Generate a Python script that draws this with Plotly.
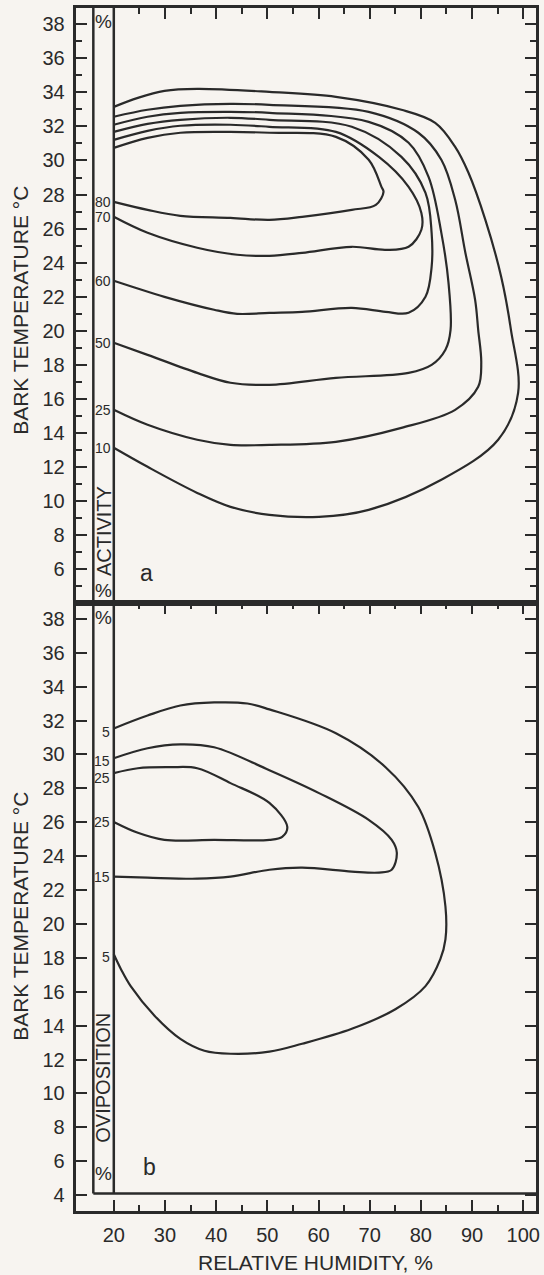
import plotly.graph_objects as go

# ---------------------------------------------------------------
# Isolines of activity (a) and oviposition (b), in per cent,
# against relative humidity (%) and bark temperature (°C).
# Each line runs from the left edge along its lower branch,
# round the humid end and back along its upper branch.
# ---------------------------------------------------------------

act_labels = ["80", "70", "60", "50", "25", "10"]

act80_rh = [20, 26.6, 33.0, 42.8, 50.4, 56.8, 66.5, 71.2, 72.7, 72.3, 69.8, 63.4, 50.4, 42.8, 33.0, 26.6, 20]
act80_t = [27.57, 27.10, 26.75, 26.63, 26.51, 26.69, 27.10, 27.39, 28.16, 28.45, 30.04, 31.39, 31.63, 31.68, 31.63, 31.33, 30.74]

act70_rh = [20, 26.6, 36.3, 44.1, 50.4, 56.8, 66.5, 73.1, 77.6, 80.1, 80.1, 77.6, 71.8, 63.4, 50.4, 42.8, 33.0, 26.6, 20]
act70_t = [26.69, 25.75, 24.87, 24.46, 24.40, 24.57, 24.93, 24.75, 24.93, 25.93, 26.92, 28.45, 30.21, 31.68, 31.98, 32.10, 32.04, 31.74, 31.21]

act60_rh = [20, 29.9, 39.6, 44.1, 50.4, 56.8, 66.5, 73.1, 77.6, 80.9, 82.1, 82.1, 80.9, 76.2, 66.5, 50.4, 42.8, 33.0, 26.6, 20]
act60_t = [22.93, 21.99, 21.23, 20.99, 21.05, 21.11, 21.34, 21.11, 21.05, 21.99, 23.75, 25.75, 28.10, 30.21, 31.98, 32.39, 32.51, 32.39, 32.15, 31.68]

act50_rh = [20, 26.6, 36.3, 42.8, 50.4, 63.4, 77.6, 82.1, 84.8, 85.8, 85.4, 84.0, 81.5, 77.6, 69.8, 50.4, 42.8, 33.0, 26.6, 20]
act50_t = [19.29, 18.58, 17.52, 16.94, 16.82, 17.23, 17.52, 17.99, 18.88, 20.05, 22.81, 25.75, 29.04, 31.04, 32.27, 32.80, 32.86, 32.80, 32.57, 32.10]

act25_rh = [20, 26.6, 36.3, 42.8, 50.4, 63.4, 76.2, 86.7, 91.2, 91.8, 91.2, 90.6, 88.7, 86.7, 84.0, 79.5, 69.8, 50.4, 42.8, 33.0, 26.6, 20]
act25_t = [15.35, 14.47, 13.59, 13.29, 13.29, 13.47, 14.29, 15.35, 16.70, 18.11, 20.05, 21.81, 24.57, 27.69, 30.04, 31.63, 32.86, 33.27, 33.33, 33.21, 32.98, 32.57]

act10_rh = [20, 26.6, 36.3, 42.8, 50.4, 60.1, 69.8, 84.0, 95.1, 99.0, 97.6, 95.7, 92.6, 89.3, 86.7, 82.8, 76.2, 63.4, 50.4, 36.3, 29.9, 24.7, 20]
act10_t = [13.12, 12.00, 10.47, 9.65, 9.18, 9.06, 9.47, 11.24, 13.59, 16.35, 20.05, 23.16, 26.51, 29.28, 30.80, 32.21, 32.98, 33.74, 34.03, 34.21, 34.09, 33.68, 33.15]

ovi_labels = ["25", "15", "5"]

ovi25_rh = [20, 24.7, 29.9, 39.6, 50.4, 52.9, 53.9, 50.4, 42.8, 36.3, 31.1, 24.7, 20]
ovi25_t = [26.02, 25.38, 24.96, 24.96, 24.96, 25.14, 25.73, 27.14, 28.31, 29.19, 29.25, 29.19, 28.90]

ovi15_rh = [20, 26.6, 36.3, 42.8, 50.4, 56.8, 66.5, 71.8, 74.3, 75.3, 74.3, 69.8, 60.1, 50.4, 39.6, 33.0, 26.6, 20]
ovi15_t = [22.79, 22.73, 22.67, 22.79, 23.20, 23.32, 23.09, 23.03, 23.20, 24.20, 24.96, 26.14, 27.72, 29.07, 30.43, 30.60, 30.37, 29.78]

ovi5_rh = [20, 21.4, 23.3, 28.0, 33.0, 37.7, 42.8, 50.4, 56.8, 66.5, 75.1, 80.9, 83.8, 84.8, 84.8, 82.8, 79.5, 73.1, 63.4, 50.4, 46.1, 39.6, 33.0, 26.6, 20]
ovi5_t = [18.21, 17.33, 16.33, 14.57, 13.22, 12.52, 12.34, 12.46, 12.93, 13.81, 14.98, 16.33, 17.92, 19.09, 21.03, 24.20, 26.90, 29.25, 31.25, 32.66, 33.01, 33.07, 32.89, 32.30, 31.54]

rh_major = [20, 30, 40, 50, 60, 70, 80, 90, 100]
rh_minor = [25, 35, 45, 55, 65, 75, 85, 95]
t_major_a = [6, 8, 10, 12, 14, 16, 18, 20, 22, 24, 26, 28, 30, 32, 34, 36, 38]
t_minor_a = [5, 7, 9, 11, 13, 15, 17, 19, 21, 23, 25, 27, 29, 31, 33, 35, 37]
t_major_b = [4, 6, 8, 10, 12, 14, 16, 18, 20, 22, 24, 26, 28, 30, 32, 34, 36, 38]

# ---------------------------------------------------------------
W, H = 544, 1275
INK = "#2a2a2a"
BG = "#f7f4f0"
FONT = "Liberation Sans"

RH_RANGE = [12.7, 102.5]
T_RANGE_A = [4.0, 38.96]
T_RANGE_B = [3.06, 38.94]
STRIP_L, PLOT_L = 16, 20   # left label strip and left edge of the plotting field (RH %)
FLOOR_B = 4.1              # floor of the strip/plot box in panel b (°C)


def py(p):
    return 1 - p / H


fig = go.Figure()

act_curves = [(act80_rh, act80_t), (act70_rh, act70_t), (act60_rh, act60_t),
              (act50_rh, act50_t), (act25_rh, act25_t), (act10_rh, act10_t)]
ovi_curves = [(ovi25_rh, ovi25_t), (ovi15_rh, ovi15_t), (ovi5_rh, ovi5_t)]

line_style = dict(color=INK, width=2.2, shape="spline", smoothing=1.0)
for rh, t in act_curves:
    fig.add_trace(go.Scatter(x=rh, y=t, xaxis="x", yaxis="y", mode="lines",
                             line=line_style, hoverinfo="skip", showlegend=False))
for rh, t in ovi_curves:
    fig.add_trace(go.Scatter(x=rh, y=t, xaxis="x2", yaxis="y2", mode="lines",
                             line=line_style, hoverinfo="skip", showlegend=False))

annotations = []
lab_font = dict(family=FONT, size=14, color=INK)

# level labels at the start of each lower branch (panel a)
for lab, (rh, t) in zip(act_labels, act_curves):
    annotations.append(dict(x=PLOT_L, y=t[0], xref="x", yref="y", text=lab,
                            xanchor="right", yanchor="middle", xshift=-1,
                            showarrow=False, font=lab_font))

# panel b: both branch ends are labelled
for lab, (rh, t), sh_lo, sh_hi in zip(ovi_labels, ovi_curves, [0, 0, -3], [-5, -3, -4]):
    annotations.append(dict(x=PLOT_L, y=t[0], xref="x2", yref="y2", text=lab,
                            xanchor="right", yanchor="middle", xshift=-2, yshift=sh_lo,
                            showarrow=False, font=lab_font))
    annotations.append(dict(x=PLOT_L, y=t[-1], xref="x2", yref="y2", text=lab,
                            xanchor="right", yanchor="middle", xshift=-2, yshift=sh_hi,
                            showarrow=False, font=lab_font))

strip_font = dict(family=FONT, size=19, color=INK)
mid = (STRIP_L + PLOT_L) / 2
for xr, yr, y_top, y_word, y_bot, word in [("x", "y", 38.15, 8.2, 4.72, "ACTIVITY"),
                                           ("x2", "y2", 38.1, 10.9, 5.3, "OVIPOSITION")]:
    annotations.append(dict(x=mid, y=y_top, xref=xr, yref=yr, text="%",
                            xanchor="center", yanchor="middle",
                            showarrow=False, font=strip_font))
    annotations.append(dict(x=mid, y=y_bot, xref=xr, yref=yr, text="%",
                            xanchor="center", yanchor="middle",
                            showarrow=False, font=strip_font))
    annotations.append(dict(x=mid, y=y_word, xref=xr, yref=yr, text=word, textangle=-90,
                            xanchor="center", yanchor="middle",
                            showarrow=False, font=dict(family=FONT, size=20, color=INK)))

letter_font = dict(family=FONT, size=23, color=INK)
annotations.append(dict(x=26.3, y=5.77, xref="x", yref="y", text="a", showarrow=False,
                        xanchor="center", yanchor="middle", font=letter_font))
annotations.append(dict(x=26.9, y=5.65, xref="x2", yref="y2", text="b", showarrow=False,
                        xanchor="center", yanchor="middle", font=letter_font))

title_font = dict(family=FONT, size=21, color=INK)
for yc in (310, 916):
    annotations.append(dict(x=20 / W, y=py(yc), xref="paper", yref="paper",
                            text="BARK TEMPERATURE °C", textangle=-90,
                            xanchor="center", yanchor="middle",
                            showarrow=False, font=title_font))
annotations.append(dict(x=318 / W, y=py(1262), xref="paper", yref="paper",
                        text="RELATIVE HUMIDITY, %", xanchor="center", yanchor="middle",
                        showarrow=False, font=title_font))

frame = dict(color=INK, width=2.5)
shapes = [
    # panel a: strip and plotting-field boundaries
    dict(type="line", xref="x", yref="y domain", x0=STRIP_L, x1=STRIP_L, y0=0, y1=1, line=frame),
    dict(type="line", xref="x", yref="y domain", x0=PLOT_L, x1=PLOT_L, y0=0, y1=1, line=frame),
    # panel b: strip, plotting field and their common floor
    dict(type="line", xref="x2", yref="y2", x0=STRIP_L, x1=STRIP_L, y0=FLOOR_B, y1=T_RANGE_B[1], line=frame),
    dict(type="line", xref="x2", yref="y2", x0=PLOT_L, x1=PLOT_L, y0=FLOOR_B, y1=T_RANGE_B[1], line=frame),
    dict(type="line", xref="x2", yref="y2", x0=STRIP_L, x1=RH_RANGE[1], y0=FLOOR_B, y1=FLOOR_B, line=frame),
]

tick_font = dict(family=FONT, size=20, color=INK)
x_domain = [77 / W, 540 / W]
common = dict(showgrid=False, zeroline=False, showline=True, linecolor=INK, linewidth=2.5,
              ticks="inside", tickcolor=INK, tickwidth=2.2, tickfont=tick_font)

fig.update_layout(
    width=W, height=H,
    margin=dict(l=0, r=0, t=0, b=0),
    paper_bgcolor=BG, plot_bgcolor=BG,
    showlegend=False,
    font=dict(family=FONT, color=INK),
    xaxis=dict(common, domain=x_domain, range=RH_RANGE, anchor="y", side="top", mirror=True,
               tickmode="array", tickvals=rh_major, ticklen=11, showticklabels=False,
               minor=dict(tickmode="array", tickvals=rh_minor, ticklen=6, tickwidth=2.2,
                          tickcolor=INK, ticks="inside")),
    yaxis=dict(common, domain=[py(603), py(8)], range=T_RANGE_A, anchor="x", mirror="ticks",
               tickmode="array", tickvals=t_major_a, ticklen=11, ticklabelstandoff=5,
               minor=dict(tickmode="array", tickvals=t_minor_a, ticklen=6, tickwidth=2.2,
                          tickcolor=INK, ticks="inside")),
    xaxis2=dict(common, domain=x_domain, range=RH_RANGE, anchor="y2", side="bottom", mirror="ticks",
                tickmode="array", tickvals=rh_major, ticklen=11, ticklabelstandoff=4,
                minor=dict(tickmode="array", tickvals=rh_minor, ticklen=6, tickwidth=2.2,
                           tickcolor=INK, ticks="inside")),
    yaxis2=dict(common, domain=[py(1211), py(603)], range=T_RANGE_B, anchor="x2", mirror="ticks",
                tickmode="array", tickvals=t_major_b, ticklen=11, ticklabelstandoff=5),
    annotations=annotations,
    shapes=shapes,
)

fig.write_html("out.html")
